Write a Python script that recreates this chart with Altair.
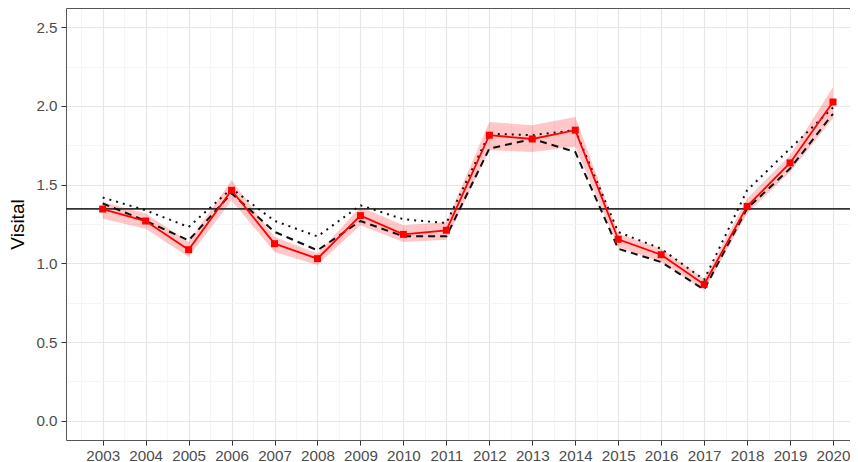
import altair as alt
import pandas as pd

years = list(range(2003, 2021))
estimate = [1.345, 1.269, 1.087, 1.464, 1.125, 1.030, 1.303, 1.184, 1.210,
            1.814, 1.790, 1.846, 1.153, 1.055, 0.866, 1.362, 1.638, 2.025]
lower = [1.284, 1.220, 1.040, 1.400, 1.072, 0.990, 1.242, 1.135, 1.150,
         1.718, 1.708, 1.740, 1.104, 1.008, 0.828, 1.316, 1.581, 1.920]
upper = [1.390, 1.316, 1.135, 1.528, 1.167, 1.063, 1.358, 1.242, 1.263,
         1.898, 1.877, 1.930, 1.190, 1.093, 0.903, 1.411, 1.687, 2.120]
dashed = [1.380, 1.270, 1.146, 1.445, 1.200, 1.083, 1.269, 1.172, 1.172,
          1.729, 1.790, 1.708, 1.093, 1.008, 0.833, 1.348, 1.602, 1.950]
dotted = [1.418, 1.337, 1.231, 1.475, 1.270, 1.171, 1.369, 1.280, 1.256,
          1.824, 1.814, 1.846, 1.199, 1.093, 0.896, 1.464, 1.729, 1.990]
reference_value = 1.346
y_title = "Visital"

df = pd.DataFrame({"year": years, "estimate": estimate, "lower": lower,
                   "upper": upper, "dashed": dashed, "dotted": dotted})

FONT = "Liberation Sans"
PLOT_W = 784
X_MIN = 2002.146
X_MAX = X_MIN + PLOT_W / 42.96
x_scale = alt.Scale(domain=[X_MIN, X_MAX], nice=False, zero=False)
y_scale = alt.Scale(domain=[-0.122, 2.622], nice=False, zero=False)

x_grid_values = [y + h for y in range(2002, 2021) for h in (0.0, 0.5)
                 if X_MIN <= y + h <= X_MAX]
y_grid_values = [i * 0.25 for i in range(11)]

x_minor = "datum.value % 1 != 0"
y_minor = "datum.value % 0.5 != 0"

x_axis = alt.Axis(
    values=x_grid_values,
    labelExpr="datum.value % 1 == 0 ? format(datum.value, 'd') : ''",
    labelOverlap=False, labelFlush=False,
    grid=True,
    gridColor={"condition": {"test": x_minor, "value": "#f3f3f3"}, "value": "#e6e6e6"},
    gridWidth={"condition": {"test": x_minor, "value": 0.8}, "value": 1.2},
    tickOpacity={"condition": {"test": x_minor, "value": 0}, "value": 1},
    tickColor="#333333", tickSize=5, tickWidth=1,
    domainColor="#555555", domainWidth=1,
    labelFont=FONT, labelFontSize=15.2, labelColor="#4d4d4d", labelPadding=3,
    title=None,
)
x_top_axis = alt.Axis(orient="top", labels=False, ticks=False, grid=False,
                      domain=True, domainColor="#555555", domainWidth=1, title=None)
y_axis = alt.Axis(
    values=y_grid_values,
    labelExpr="datum.value % 0.5 == 0 ? format(datum.value, '.1f') : ''",
    labelOverlap=False, labelFlush=False,
    grid=True,
    gridColor={"condition": {"test": y_minor, "value": "#f3f3f3"}, "value": "#e6e6e6"},
    gridWidth={"condition": {"test": y_minor, "value": 0.8}, "value": 1.2},
    tickOpacity={"condition": {"test": y_minor, "value": 0}, "value": 1},
    tickColor="#333333", tickSize=5, tickWidth=1,
    domainColor="#555555", domainWidth=1,
    labelFont=FONT, labelFontSize=15.2, labelColor="#4d4d4d", labelPadding=4,
    title=y_title, titleFont=FONT, titleFontSize=19, titleFontWeight="normal",
    titleColor="#000000", titlePadding=8,
)

base = alt.Chart(df)

ribbon = base.mark_area(color="#ff0000", opacity=0.22).encode(
    x=alt.X("year:Q", scale=x_scale, axis=x_axis),
    y=alt.Y("lower:Q", scale=y_scale, axis=y_axis),
    y2="upper:Q",
)

hline = alt.Chart(pd.DataFrame({"ref": [reference_value]})).mark_rule(
    color="#333333", strokeWidth=1.6
).encode(y=alt.Y("ref:Q", scale=y_scale, axis=y_axis))

dotted_line = base.mark_line(color="#111111", strokeWidth=2, strokeDash=[2, 5]).encode(
    x=alt.X("year:Q", scale=x_scale, axis=None),
    y=alt.Y("dotted:Q", scale=y_scale, axis=y_axis),
)

dashed_line = base.mark_line(color="#111111", strokeWidth=2, strokeDash=[7, 5]).encode(
    x=alt.X("year:Q", scale=x_scale, axis=None),
    y=alt.Y("dashed:Q", scale=y_scale, axis=y_axis),
)

red_line = base.mark_line(color="#ff0000", strokeWidth=1.8).encode(
    x=alt.X("year:Q", scale=x_scale, axis=x_top_axis),
    y=alt.Y("estimate:Q", scale=y_scale, axis=y_axis),
)

points = base.mark_square(color="#ff0000", size=49, opacity=1).encode(
    x=alt.X("year:Q", scale=x_scale, axis=None),
    y=alt.Y("estimate:Q", scale=y_scale, axis=y_axis),
)

chart = alt.layer(ribbon, hline, dotted_line, dashed_line, red_line, points).properties(
    width=PLOT_W, height=432,
    autosize=alt.AutoSizeParams(type="none"),
    padding={"left": 58, "top": 0, "right": 0, "bottom": 22},
).resolve_axis(x="independent").configure_view(stroke=None).configure(background="white")

chart.save("out.html", embed_options={"renderer": "svg", "actions": False})
